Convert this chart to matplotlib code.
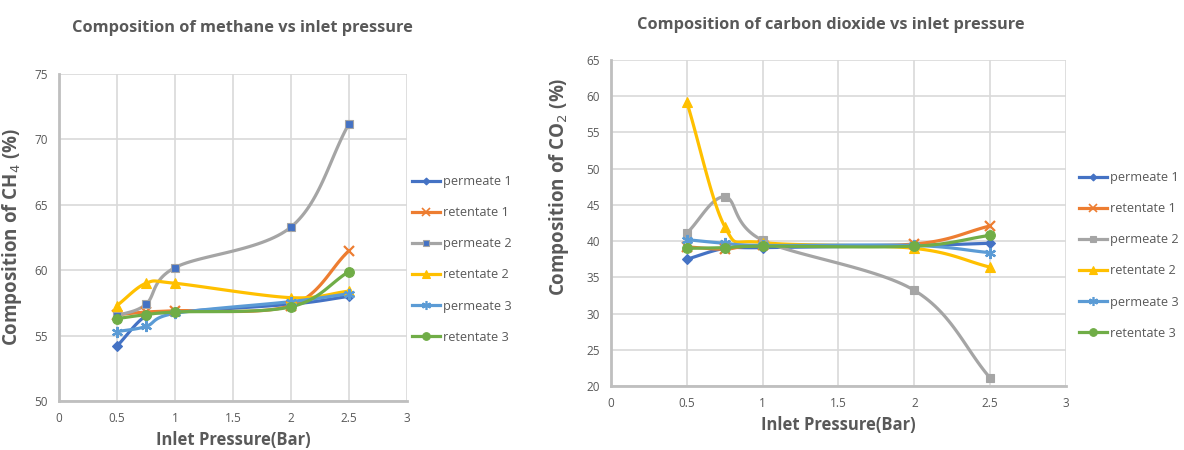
import numpy as np
import matplotlib
matplotlib.use("Agg")
import matplotlib.pyplot as plt
from matplotlib.lines import Line2D

pressure = [0.5, 0.75, 1.0, 2.0, 2.5]
series_names = ["permeate 1", "retentate 1", "permeate 2", "retentate 2", "permeate 3", "retentate 3"]

ch4_permeate1 = [54.2, 56.5, 56.8, 57.4, 58.0]
ch4_retentate1 = [56.6, 56.8, 56.9, 57.3, 61.5]
ch4_permeate2 = [56.5, 57.4, 60.2, 63.3, 71.2]
ch4_retentate2 = [57.3, 59.0, 59.0, 57.9, 58.4]
ch4_permeate3 = [55.3, 55.7, 56.7, 57.6, 58.2]
ch4_retentate3 = [56.3, 56.6, 56.8, 57.2, 59.9]

co2_permeate1 = [37.5, 39.0, 39.1, 39.4, 39.7]
co2_retentate1 = [39.2, 38.9, 39.4, 39.6, 42.1]
co2_permeate2 = [41.1, 46.1, 40.1, 33.2, 21.1]
co2_retentate2 = [59.2, 42.0, 39.8, 39.0, 36.4]
co2_permeate3 = [40.2, 39.7, 39.4, 39.4, 38.4]
co2_retentate3 = [39.0, 39.1, 39.3, 39.3, 40.8]

x_ticks = [0, 0.5, 1, 1.5, 2, 2.5, 3]
x_tick_labels = ["0", "0.5", "1", "1.5", "2", "2.5", "3"]

colors = ["#4472C4", "#ED7D31", "#A5A5A5", "#FFC000", "#5B9BD5", "#70AD47"]
markers = ["D", "x", "s", "^", (6, 2, 0), "o"]
msizes = [5, 7, 6, 7, 8, 7]

plt.rcParams['font.family'] = ['Open Sans', 'DejaVu Sans']
TXT = "#595959"


def smooth(xs, ys, n=30):
    xs = np.asarray(xs, float)
    ys = np.asarray(ys, float)
    px = np.concatenate([[2 * xs[0] - xs[1]], xs, [2 * xs[-1] - xs[-2]]])
    py = np.concatenate([[2 * ys[0] - ys[1]], ys, [2 * ys[-1] - ys[-2]]])
    outx, outy = [], []
    for i in range(1, len(px) - 2):
        t = np.linspace(0, 1, n, endpoint=(i == len(px) - 3))
        for p, out in ((px, outx), (py, outy)):
            p0, p1, p2, p3 = p[i - 1], p[i], p[i + 1], p[i + 2]
            out.extend(0.5 * ((2 * p1) + (-p0 + p2) * t + (2 * p0 - 5 * p1 + 4 * p2 - p3) * t ** 2
                              + (-p0 + 3 * p1 - 3 * p2 + p3) * t ** 3))
    return np.array(outx), np.array(outy)


W, H = 1184, 450
fig = plt.figure(figsize=(W / 100, H / 100), dpi=100)
ax1 = fig.add_axes([59 / W, 1 - 401 / H, 348 / W, 327 / H])
ax2 = fig.add_axes([611 / W, 1 - 386 / H, 455 / W, 326 / H])

ch4 = [ch4_permeate1, ch4_retentate1, ch4_permeate2, ch4_retentate2, ch4_permeate3, ch4_retentate3]
co2 = [co2_permeate1, co2_retentate1, co2_permeate2, co2_retentate2, co2_permeate3, co2_retentate3]


def draw(ax, data, ylim, yticks, ylabel, left_chart, ylab_xy):
    handles = []
    for i, ys in enumerate(data):
        sx, sy = smooth(pressure, ys)
        ax.plot(sx, sy, color=colors[i], lw=2.3, zorder=3, solid_capstyle='round')
        mfc = colors[i]
        mec = colors[i]
        if i == 2 and left_chart:
            mfc = "#4472C4"
            mec = "#A5A5A5"
        mew = 1.6 if markers[i] in ("x", (6, 2, 0)) else 0.8
        ax.plot(pressure, ys, linestyle='none', marker=markers[i], ms=msizes[i],
                mfc=mfc, mec=mec, mew=mew, zorder=4)
        handles.append(Line2D([0], [0], color=colors[i], lw=2.3, marker=markers[i],
                              ms=msizes[i] - 1.5, mfc=mfc, mec=mec, mew=1.2 if mew > 1 else 0.8))
    ax.set_xlim(0, 3)
    ax.set_ylim(*ylim)
    ax.set_xticks(x_ticks)
    ax.set_xticklabels(x_tick_labels)
    ax.set_yticks(yticks)
    ax.grid(True, color="#D9D9D9", lw=1.2, zorder=0)
    ax.set_axisbelow(True)
    for s in ("top", "right"):
        ax.spines[s].set_visible(False)
    for s in ("left", "bottom"):
        ax.spines[s].set_color("#BFBFBF")
        ax.spines[s].set_linewidth(2.0)
    ax.tick_params(length=0, colors=TXT, labelsize=8.5, pad=8)
    ax.set_xlabel("Inlet Pressure(Bar)", fontsize=12, fontweight='bold', color=TXT, labelpad=4)
    ax.set_ylabel(ylabel, fontsize=13.5, fontweight='bold', color=TXT)
    ax.yaxis.set_label_coords(*ylab_xy)
    return handles


h1 = draw(ax1, ch4, (50, 75), [50, 55, 60, 65, 70, 75],
          "Composition of CH$_4$ (%)", True, (-0.10, 0.5))
h2 = draw(ax2, co2, (20, 65), list(range(20, 66, 5)),
          "Composition of CO$_2$ (%)", False, (-0.088, 0.61))

fig.text(242 / W, 1 - 28 / H, "Composition of methane vs inlet pressure", ha='center', va='center',
         fontsize=11.8, fontweight='bold', color=TXT)
fig.text(831 / W, 1 - 25 / H, "Composition of carbon dioxide vs inlet pressure", ha='center', va='center',
         fontsize=11.8, fontweight='bold', color=TXT)

leg_kw = dict(frameon=False, fontsize=9.2, labelcolor=TXT, handlelength=2.2, handletextpad=0.2,
              labelspacing=1.42, borderpad=0, borderaxespad=0)
fig.legend(h1, series_names, loc='upper left', bbox_to_anchor=(412 / W, 1 - 175 / H), **leg_kw)
fig.legend(h2, series_names, loc='upper left', bbox_to_anchor=(1079 / W, 1 - 171 / H), **leg_kw)

fig.savefig("out.png", dpi=100)
